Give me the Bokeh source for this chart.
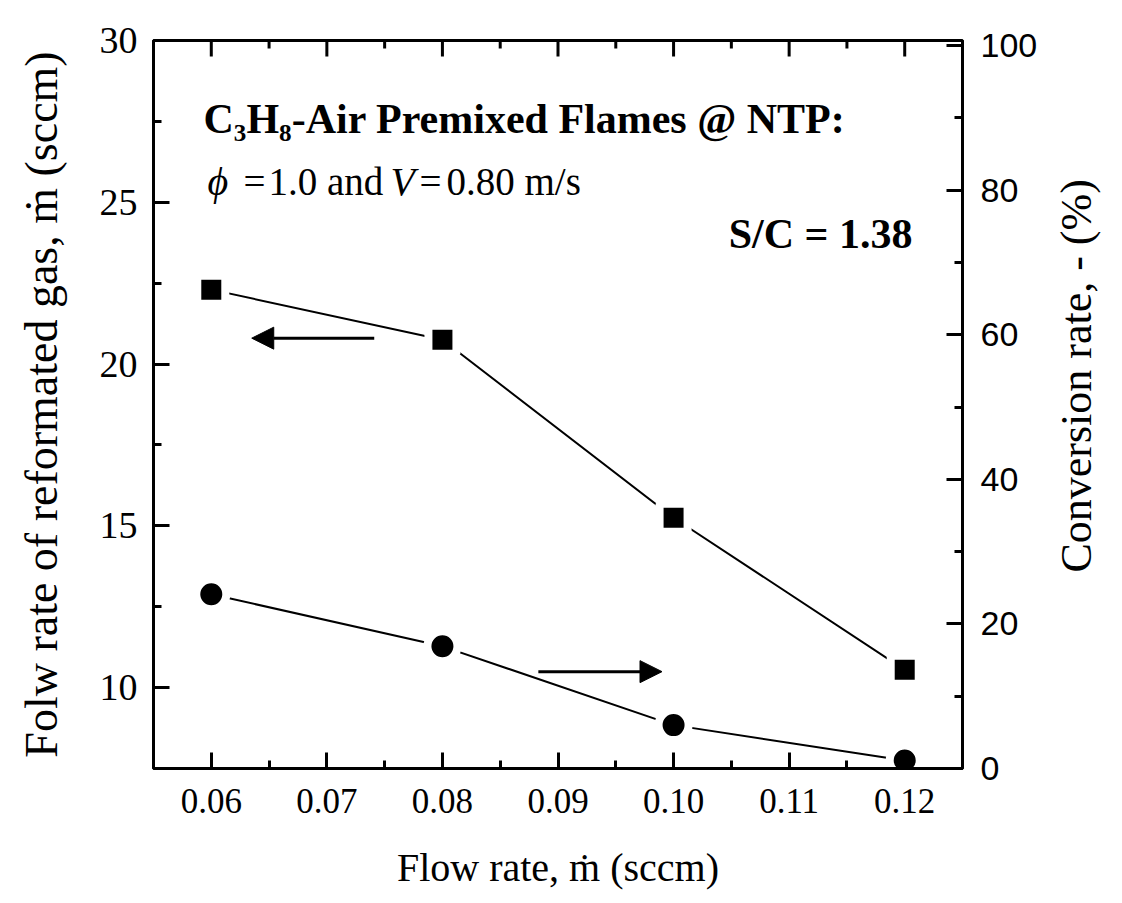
import math
from bokeh.plotting import figure
from bokeh.layouts import row
from bokeh.models import (Range1d, LinearAxis, FixedTicker, Arrow, NormalHead,
                          PrintfTickFormatter)
from bokeh.core.properties import value
from bokeh.embed import file_html
from bokeh.resources import INLINE

# ---- data ----
flow_rate = [0.06, 0.08, 0.10, 0.12]
reformed_gas = [22.3, 20.75, 15.25, 10.55]      # left axis (sccm)
conversion = [24.1, 16.9, 6.0, 1.1]             # right axis (%)

x_ticks = [0.06, 0.07, 0.08, 0.09, 0.10, 0.11, 0.12]
x_minor = [0.065, 0.075, 0.085, 0.095, 0.105, 0.115]
left_ticks = [10, 15, 20, 25, 30]
left_minor = [12.5, 17.5, 22.5, 27.5]
right_ticks = [0, 20, 40, 60, 80, 100]
right_minor = [10, 30, 50, 70, 90]

# arrows: [x_start, x_end, y]
arrow_left = [0.0741, 0.0635, 20.8]
arrow_right = [0.0883, 0.0990, 13.4]

SERIF = "Liberation Serif"
SANS = "Liberation Sans"

W, H = 1122, 903
SIDE_W = 80                              # strip holding the right-hand title
PW = W - SIDE_W
FL, FR, FT, FB = 153, 962, 40, 768      # frame edges in pixels
X0, X1 = 0.055, 0.125
Y0, Y1 = 7.5, 30.0


def px_x(px):
    return X0 + (px - FL) * (X1 - X0) / (FR - FL)


def px_y(py):
    return Y1 - (py - FT) * (Y1 - Y0) / (FB - FT)


p = figure(width=PW, height=H, x_range=Range1d(X0, X1), y_range=Range1d(Y0, Y1),
           output_backend="svg", toolbar_location=None)
p.extra_y_ranges = {"conv": Range1d(0, 100.7)}
p.min_border_left = FL
p.min_border_right = PW - FR
p.min_border_top = FT
p.min_border_bottom = H - FB
p.xgrid.visible = False
p.ygrid.visible = False
p.outline_line_color = "black"
p.outline_line_width = 3
p.background_fill_color = "white"
p.border_fill_color = "white"


def style(ax, tick_in=16, minor_in=8):
    ax.axis_line_width = 3
    ax.axis_line_color = "black"
    ax.major_tick_line_width = 3
    ax.minor_tick_line_width = 3
    ax.major_tick_in = tick_in
    ax.major_tick_out = 0
    ax.minor_tick_in = minor_in
    ax.minor_tick_out = 0
    ax.major_label_text_color = "black"
    ax.axis_label_text_color = "black"
    ax.axis_label_text_font = SERIF
    ax.axis_label_text_font_style = "normal"


xb = p.xaxis[0]
style(xb)
xb.ticker = FixedTicker(ticks=x_ticks, minor_ticks=x_minor)
xb.formatter = PrintfTickFormatter(format="%.2f")
xb.major_label_text_font = SERIF
xb.major_label_text_font_size = "35px"
xb.major_label_standoff = 20
xb.axis_label = "Flow rate, ṁ (sccm)"
xb.axis_label_text_font_size = "40px"
xb.axis_label_standoff = 29

yl = p.yaxis[0]
style(yl)
yl.ticker = FixedTicker(ticks=left_ticks, minor_ticks=left_minor)
yl.major_label_text_font = SERIF
yl.major_label_text_font_size = "38px"
yl.major_label_standoff = 16
yl.axis_label = "Folw rate of reformated gas, ṁ (sccm)"
yl.axis_label_text_font_size = "46px"
yl.axis_label_standoff = 30

yr = LinearAxis(y_range_name="conv",
                ticker=FixedTicker(ticks=right_ticks, minor_ticks=right_minor))
style(yr)
yr.major_label_text_font = SANS
yr.major_label_text_font_size = "34px"
yr.major_label_standoff = 18
p.add_layout(yr, "right")

# top-edge ticks (mirror of the bottom axis, no labels)
per_px = (Y1 - Y0) / (FB - FT)
p.segment(x0=x_ticks, x1=x_ticks, y0=[Y1] * len(x_ticks),
          y1=[Y1 - 16 * per_px] * len(x_ticks), line_color="black", line_width=3)
p.segment(x0=x_minor, x1=x_minor, y0=[Y1] * len(x_minor),
          y1=[Y1 - 8 * per_px] * len(x_minor), line_color="black", line_width=3)

# ---- series ----
p.line(flow_rate, reformed_gas, line_color="black", line_width=2)
p.scatter(flow_rate, reformed_gas, marker="square", size=28, fill_color="black",
          line_color="white", line_width=8)
p.line(flow_rate, conversion, line_color="black", line_width=2, y_range_name="conv")
p.scatter(flow_rate, conversion, marker="circle", size=30, fill_color="black",
          line_color="white", line_width=8, y_range_name="conv")

# ---- arrows ----
p.add_layout(Arrow(end=NormalHead(size=22, fill_color="black", line_color="black"),
                   x_start=arrow_left[0], x_end=arrow_left[1],
                   y_start=arrow_left[2], y_end=arrow_left[2],
                   line_width=3, line_color="black"))
p.add_layout(Arrow(end=NormalHead(size=22, fill_color="black", line_color="black"),
                   x_start=arrow_right[0], x_end=arrow_right[1],
                   y_start=arrow_right[2], y_end=arrow_right[2],
                   line_width=3, line_color="black", y_range_name="conv"))


# ---- in-plot texts ----
def txt(pxs, pys, texts, size, fstyle, align="left"):
    p.text(x=[px_x(v) for v in pxs], y=[px_y(v) for v in pys], text=texts,
           text_font=value(SERIF), text_font_size=value(size),
           text_font_style=fstyle, text_align=align, text_baseline="middle",
           text_color="black")


txt([203], [118], ["C₃H₈-Air Premixed Flames @ NTP:"], "42px", "bold")
txt([912], [233], ["S/C = 1.38"], "42px", "bold", align="right")
txt([207, 390], [181, 181], ["ϕ", "V"], "40px", "italic")
txt([243, 268, 419, 446], [181] * 4, ["=", "1.0 and", "=", "0.80 m/s"], "39px", "normal")

# ---- right-hand title strip (reads bottom to top) ----
side = figure(width=SIDE_W, height=H, x_range=Range1d(0, SIDE_W), y_range=Range1d(0, H),
              output_backend="svg", toolbar_location=None, min_border=0)
side.axis.visible = False
side.grid.visible = False
side.outline_line_color = None
side.background_fill_color = "white"
side.border_fill_color = "white"
side.text(x=[1076 - PW], y=[H - 416], text=["Conversion rate, - (%)"],
          angle=math.pi / 2, text_font=value(SERIF), text_font_size=value("44px"),
          text_align="center", text_baseline="middle", text_color="black")

layout = row(p, side, spacing=0)
open("out.html", "w").write(file_html(layout, INLINE))
